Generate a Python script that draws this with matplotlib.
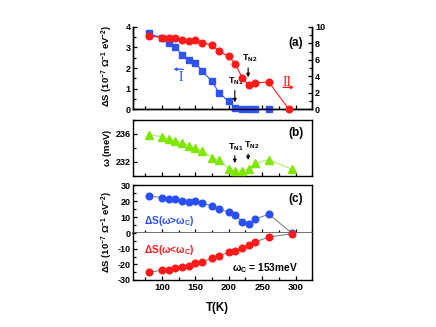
import numpy as np
import matplotlib
matplotlib.use("Agg")
import matplotlib.pyplot as plt
from matplotlib.ticker import MultipleLocator

plt.rcParams['font.family'] = ['Liberation Sans', 'DejaVu Sans']
plt.rcParams['font.weight'] = 'bold'
plt.rcParams['mathtext.default'] = 'regular'
plt.rcParams['axes.unicode_minus'] = False

# temperatures (K)
T = [80, 100, 110, 120, 130, 140, 150, 160, 175, 185, 200, 210, 220, 230, 240, 260, 295]
T_a = [80, 100, 110, 120, 130, 140, 150, 160, 175, 185, 200, 210, 220, 230, 240, 260, 290]

# (a) spectral weight, region I (left axis) and II (right axis)
dS_I = [3.68, 3.45, 3.2, 3.0, 2.65, 2.4, 2.25, 1.85, 1.35, 0.8, 0.38, 0.05, 0.0, 0.0, 0.0, 0.0]
dS_II = [8.9, 8.7, 8.7, 8.65, 8.4, 8.3, 8.45, 8.05, 7.8, 7.05, 6.4, 5.5, 3.8, 2.9, 3.2, 3.3, 0.0]

# (b) peak energy (meV)
omega = [235.9, 235.6, 235.2, 235.0, 234.7, 234.3, 234.0, 233.6, 232.6, 232.2,
         231.0, 230.7, 230.7, 230.9, 231.8, 232.3, 230.9]

# (c) spectral weight above / below omega_c
dS_hi = [23.2, 22.2, 21.6, 21.3, 19.9, 19.6, 20.0, 18.6, 17.2, 15.0,
         13.2, 11.5, 7.0, 5.9, 9.0, 11.8, 0.0]
dS_lo = [-25.0, -23.8, -23.3, -22.4, -21.6, -20.8, -19.1, -18.3, -16.2, -14.5,
         -12.3, -11.2, -9.2, -7.6, -5.4, -2.5, -0.2]

red = '#ff1a1a'
blue = '#2f52f0'
green = '#7fe600'
cblue = '#2a50f5'

fig = plt.figure(figsize=(4.36, 3.27), dpi=100)
L, W = 0.306, 0.41
ax_a = fig.add_axes([L, 0.666, W, 0.252])
ax_b = fig.add_axes([L, 0.463, W, 0.170])
ax_c1 = fig.add_axes([L, 0.2865, W, 0.1475])
ax_c2 = fig.add_axes([L, 0.144, W, 0.1425])
ax_a2 = ax_a.twinx()

for ax in [ax_a, ax_a2, ax_b, ax_c1, ax_c2]:
    ax.set_xlim(57, 325)
    ax.xaxis.set_major_locator(MultipleLocator(50))
    ax.xaxis.set_minor_locator(MultipleLocator(25))
    ax.tick_params(which='both', direction='in', labelsize=6.5, width=0.9, pad=2)
    ax.tick_params(which='major', length=3)
    ax.tick_params(which='minor', length=2)
    for s in ax.spines.values():
        s.set_linewidth(1.0)
for ax in [ax_a, ax_b, ax_c1]:
    ax.tick_params(labelbottom=False)

# panel (a)
ax_a.spines['top'].set_visible(False)
ax_a2.spines['top'].set_visible(False)
ax_a.plot(T_a[:len(dS_I)], dS_I, '-s', color=blue, ms=4.2, lw=0.8, mec=blue, clip_on=False, zorder=3)
ax_a.set_ylim(0, 4)
ax_a.yaxis.set_major_locator(MultipleLocator(1))
ax_a.yaxis.set_minor_locator(MultipleLocator(0.5))
ax_a2.plot(T_a, dS_II, '-o', color=red, ms=4.8, lw=0.8, mec=red, clip_on=False, zorder=4)
ax_a2.set_ylim(0, 10)
ax_a2.yaxis.set_major_locator(MultipleLocator(2))
ax_a2.yaxis.set_minor_locator(MultipleLocator(1))
ax_a.tick_params(axis='x', top=False)
ax_a2.text(300, 8.0, '(a)', fontsize=8.5, ha='center', va='center')
ax_a2.text(231, 5.5, '$T_{N2}$', fontsize=6.5, ha='center', va='bottom')
ax_a2.annotate('', xy=(229, 3.55), xytext=(229, 5.35),
               arrowprops=dict(arrowstyle='-|>', lw=0.8, color='k', mutation_scale=5))
ax_a2.text(211, 2.65, '$T_{N1}$', fontsize=6.5, ha='center', va='bottom')
ax_a2.annotate('', xy=(209, 0.5), xytext=(209, 2.6),
               arrowprops=dict(arrowstyle='-|>', lw=0.8, color='k', mutation_scale=5))
ax_a2.text(288, 3.3, 'II', color=red, fontsize=10, family='Liberation Serif',
           fontweight='normal', ha='center', va='center')
ax_a2.annotate('', xy=(302, 2.65), xytext=(277, 2.65),
               arrowprops=dict(arrowstyle='-|>', lw=0.9, color=red, mutation_scale=4))
ax_a.text(127.5, 1.55, 'I', color=blue, fontsize=10, family='Liberation Serif',
          fontweight='normal', ha='center', va='center')
ax_a.annotate('', xy=(113, 1.94), xytext=(136, 1.94),
              arrowprops=dict(arrowstyle='-|>', lw=0.9, color=blue, mutation_scale=4))

# panel (b)
ax_b.plot(T, omega, '-^', color='#a8f070', mfc=green, mec=green, ms=5.8, lw=0.8, zorder=3)
ax_b.set_ylim(230, 238)
ax_b.yaxis.set_major_locator(MultipleLocator(4))
ax_b.yaxis.set_minor_locator(MultipleLocator(2))
ax_b.text(300, 236.1, '(b)', fontsize=8.5, ha='center', va='center')
ax_b.text(211, 233.3, '$T_{N1}$', fontsize=6.5, ha='center', va='bottom')
ax_b.annotate('', xy=(209, 231.4), xytext=(209, 233.25),
              arrowprops=dict(arrowstyle='-|>', lw=0.8, color='k', mutation_scale=5))
ax_b.text(235, 233.55, '$T_{N2}$', fontsize=6.5, ha='center', va='bottom')
ax_b.annotate('', xy=(229, 231.85), xytext=(229, 233.5),
              arrowprops=dict(arrowstyle='-|>', lw=0.8, color='k', mutation_scale=5))

# panel (c)
ax_c1.plot(T, dS_hi, '-o', color='0.45', mfc=cblue, mec=cblue, ms=4.8, lw=0.7, clip_on=False, zorder=3)
ax_c1.set_ylim(0, 30)
ax_c1.yaxis.set_major_locator(MultipleLocator(10))
ax_c1.yaxis.set_minor_locator(MultipleLocator(5))
ax_c1.spines['bottom'].set_color('0.4')
ax_c1.spines['bottom'].set_linewidth(1.3)
ax_c2.plot(T, dS_lo, '-o', color='0.45', mfc=red, mec=red, ms=4.8, lw=0.7, clip_on=False, zorder=3)
ax_c2.set_ylim(-30, 0)
ax_c2.set_yticks([-30, -20, -10])
ax_c2.yaxis.set_minor_locator(MultipleLocator(5))
ax_c2.spines['top'].set_visible(False)
ax_c2.tick_params(axis='x', top=False)
ax_c2.set_xticks([100, 150, 200, 250, 300])
ax_c2.set_xticklabels(['100', '150', '200', '250', '300'], fontsize=6.8)
ax_c1.text(300, 21.2, '(c)', fontsize=8.5, ha='center', va='center')
ax_c1.text(73, 7.4, r'$\Delta$S($\omega$>$\omega_C$)', color=cblue, fontsize=7.3, ha='left', va='center')
ax_c2.text(73, -10.6, r'$\Delta$S($\omega$<$\omega_C$)', color=red, fontsize=7.3, ha='left', va='center')
ax_c2.text(205, -22.1, r'$\omega_C$ = 153meV', color='k', fontsize=7.3, ha='left', va='center')

# axis labels
fig.text(0.246, 0.798, r'$\Delta$S (10$^{-7}$ $\Omega^{-1}$ eV$^{-2}$)', rotation=90,
         fontsize=6.8, ha='center', va='center')
fig.text(0.246, 0.548, r'$\omega$ (meV)', rotation=90, fontsize=6.8, ha='center', va='center')
fig.text(0.246, 0.292, r'$\Delta$S (10$^{-7}$ $\Omega^{-1}$ eV$^{-2}$)', rotation=90,
         fontsize=6.8, ha='center', va='center')
fig.text(0.498, 0.058, 'T(K)', fontsize=8.3, ha='center', va='center')

fig.savefig('out.png', dpi=100)
